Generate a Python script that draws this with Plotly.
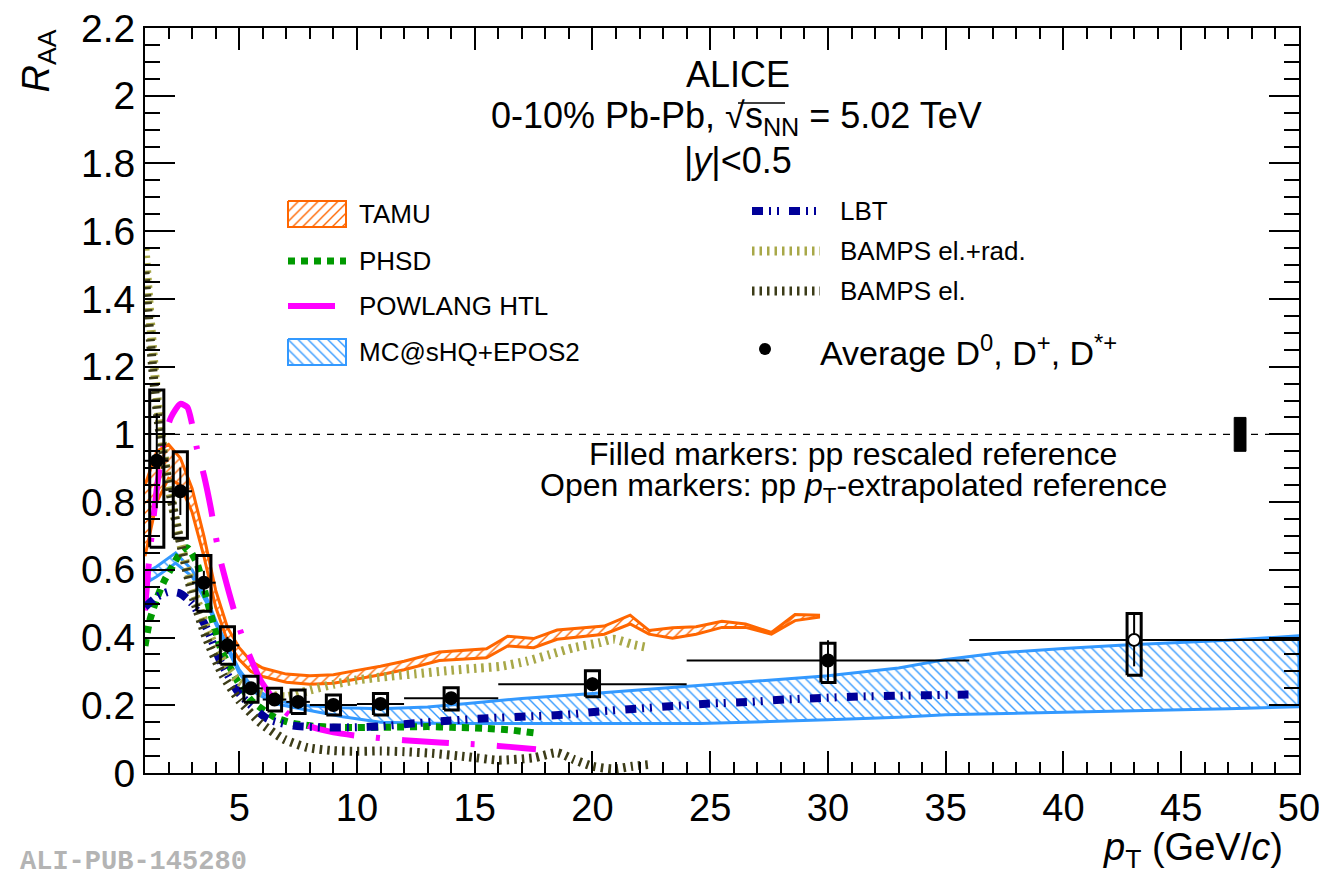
import plotly.graph_objects as go

# ---------------- canvas / frame geometry (pixels) ----------------
W, H = 1319, 878
ML, MR, MT, MB = 145, 20, 28, 105
PW, PH = W - ML - MR, H - MT - MB
FONT = "Liberation Sans, Arial, Helvetica, sans-serif"

# ---------------- measured data: average D0, D+, D*+ ----------------
pt_d = [1.5, 2.5, 3.5, 4.5, 5.5, 6.5, 7.5, 9, 11, 14, 20, 30, 43]
raa_d = [0.922, 0.832, 0.562, 0.377, 0.250, 0.217, 0.210, 0.201, 0.204, 0.221, 0.262, 0.332, 0.393]
stat_d = [0.14, 0.07, 0.035, 0.025, 0.015, 0.012, 0.012, 0.010, 0.012, 0.015, 0.020, 0.060, 0.078]
syst_lo = [0.667, 0.693, 0.478, 0.321, 0.209, 0.183, 0.176, 0.171, 0.171, 0.186, 0.225, 0.267, 0.289]
syst_hi = [1.131, 0.949, 0.642, 0.432, 0.286, 0.250, 0.245, 0.230, 0.235, 0.252, 0.302, 0.383, 0.471]
bin_lo = [1, 2, 3, 4, 5, 6, 7, 8, 10, 12, 16, 24, 36]
bin_hi = [2, 3, 4, 5, 6, 7, 8, 10, 12, 16, 24, 36, 50]
extrapolated_ref = [False] * 12 + [True]
norm_pt = 47.5
norm_unc = 0.05

# ---------------- model calculations ----------------
tamu_pt = [1, 1.5, 2, 2.5, 3, 3.5, 4, 4.5, 5, 5.5, 6, 7, 8, 9, 10, 11, 12, 13.5, 15.5, 16.4,
           17.5, 18.5, 20.5, 21.6, 22.4, 23.4, 24.4, 25.5, 26.5, 27.6, 28.6, 29.6]
tamu_hi = [0.85, 0.95, 0.97, 0.93, 0.84, 0.70, 0.54, 0.43, 0.37, 0.33, 0.31, 0.292, 0.287, 0.29,
           0.303, 0.315, 0.33, 0.357, 0.367, 0.404, 0.397, 0.422, 0.434, 0.466, 0.421, 0.429,
           0.432, 0.448, 0.44, 0.415, 0.468, 0.466]
tamu_lo = [0.64, 0.80, 0.87, 0.85, 0.77, 0.64, 0.49, 0.39, 0.335, 0.30, 0.285, 0.268, 0.262,
           0.265, 0.278, 0.29, 0.305, 0.332, 0.34, 0.375, 0.37, 0.395, 0.41, 0.44, 0.41, 0.398,
           0.41, 0.43, 0.43, 0.41, 0.45, 0.46]

phsd_pt = [1, 1.2, 1.5, 1.8, 2.2, 2.5, 2.8, 3.2, 3.6, 4.2, 4.9, 5.5, 6.5, 7.2, 8.2, 9, 10, 11,
           12, 13, 14, 15.4, 16.5, 17.7]
phsd_r = [0.375, 0.45, 0.515, 0.565, 0.615, 0.65, 0.665, 0.62, 0.52, 0.37, 0.275, 0.215, 0.165,
          0.148, 0.138, 0.135, 0.134, 0.135, 0.136, 0.137, 0.135, 0.132, 0.127, 0.117]

pow_pt = [1, 1.15, 1.5, 1.8, 2.1, 2.5, 2.8, 3.0, 3.2, 3.5, 3.8, 4.0, 4.2, 4.7, 5.0, 5.3, 5.9,
          6.5, 7.0, 8.0, 9.0, 10.0, 11.0, 12.0, 13.0, 14.0, 15.0, 16.0, 17.0, 17.6]
pow_r = [0.48, 0.61, 0.84, 0.98, 1.05, 1.09, 1.08, 1.03, 0.96, 0.88, 0.78, 0.70, 0.63, 0.50,
         0.43, 0.37, 0.275, 0.215, 0.178, 0.138, 0.12, 0.11, 0.103, 0.097, 0.092, 0.088, 0.085,
         0.08, 0.074, 0.07]

mc_pt = [1, 1.5, 2.3, 3, 3.6, 4.0, 4.5, 5, 5.6, 6.5, 7.6, 8.7, 9.4, 11, 13, 14.7, 16.1, 17, 20,
         24.6, 30, 33, 35, 37.3, 40, 42.4, 47, 50]
mc_hi = [0.59, 0.61, 0.65, 0.60, 0.52, 0.45, 0.375, 0.305, 0.25, 0.216, 0.20, 0.195, 0.193,
         0.19, 0.195, 0.205, 0.215, 0.22, 0.235, 0.258, 0.287, 0.31, 0.335, 0.355, 0.368, 0.377,
         0.392, 0.405]
mc_lo = [0.56, 0.58, 0.62, 0.58, 0.505, 0.44, 0.365, 0.295, 0.24, 0.205, 0.19, 0.176, 0.166,
         0.15, 0.147, 0.146, 0.146, 0.146, 0.145, 0.146, 0.157, 0.165, 0.172, 0.176, 0.18,
         0.183, 0.19, 0.196]

lbt_pt = [1, 1.5, 2, 2.5, 3, 3.6, 4.2, 5, 6.2, 7.3, 8.5, 10, 11, 12.5, 14, 15.6, 17.2, 18.8,
          20.3, 21.9, 23.5, 25, 26.7, 28.2, 29.8, 31.4, 33, 34.5, 36.1]
lbt_r = [0.49, 0.52, 0.535, 0.53, 0.50, 0.43, 0.33, 0.235, 0.16, 0.14, 0.135, 0.135, 0.138,
         0.147, 0.155, 0.162, 0.167, 0.172, 0.182, 0.19, 0.198, 0.205, 0.21, 0.217, 0.222,
         0.226, 0.228, 0.23, 0.232]

bampsr_pt = [1, 1.2, 1.4, 1.6, 2.0, 2.4, 2.8, 3.2, 3.6, 4.0, 4.5, 5.0, 6.0, 7.0, 8.0, 9.0, 10.0,
             11.3, 12.5, 13.8, 15.2, 16.1, 17.2, 18.2, 19.2, 20.3, 20.9, 21.7, 22.4]
bampsr_r = [1.55, 1.36, 1.19, 1.05, 0.85, 0.71, 0.60, 0.51, 0.43, 0.37, 0.31, 0.27, 0.235,
            0.225, 0.245, 0.262, 0.275, 0.285, 0.293, 0.302, 0.31, 0.315, 0.33, 0.35, 0.37,
            0.385, 0.395, 0.38, 0.37]

bampse_pt = [1, 1.2, 1.4, 1.6, 1.8, 2.2, 2.6, 3.0, 3.6, 4.3, 5.0, 5.9, 6.9, 7.9, 9, 10, 11, 12,
             13.2, 14.7, 16, 17.5, 18.5, 19.2, 20, 20.9, 21.7, 22.4]
bampse_r = [1.48, 1.30, 1.14, 1.02, 0.93, 0.78, 0.65, 0.53, 0.40, 0.29, 0.215, 0.148, 0.10,
            0.075, 0.066, 0.064, 0.065, 0.063, 0.058, 0.048, 0.038, 0.045, 0.06, 0.04, 0.02,
            0.012, 0.02, 0.025]

# ---------------- axis ticks ----------------
x_ticks = [5, 10, 15, 20, 25, 30, 35, 40, 45, 50]
y_ticks = [0, 0.2, 0.4, 0.6, 0.8, 1.0, 1.2, 1.4, 1.6, 1.8, 2.0, 2.2]
y_ticktext = ["0", "0.2", "0.4", "0.6", "0.8", "1", "1.2", "1.4", "1.6", "1.8", "2", "2.2"]

# ---------------- styles ----------------
C_TAMU = "#ff6600"
C_PHSD = "#009a00"
C_POW = "#ff00ff"
C_MC = "#3399ff"
C_LBT = "#000099"
C_BR = "#a8a848"
C_BE = "#3c3c18"

DASH_PHSD = "7px,6px"
DASH_POW = "47px,22px,4px,22px"
DASH_LBT = "11px,6px,2px,6px,2px,10px"
DASH_BAMPS = "2.5px,5px"

fig = go.Figure()


def band(xs, hi, lo, color, shape):
    return go.Scatter(
        x=list(xs) + list(xs)[::-1], y=list(hi) + list(lo)[::-1],
        mode="lines", fill="toself", fillcolor="rgba(0,0,0,0)",
        fillpattern=dict(shape=shape, fgcolor=color, bgcolor="rgba(0,0,0,0)",
                         size=7, solidity=0.2, fillmode="replace"),
        line=dict(color=color, width=3), hoverinfo="skip", showlegend=False)


def curve(xs, ys, color, width, dash, spline=True):
    return go.Scatter(
        x=xs, y=ys, mode="lines",
        line=dict(color=color, width=width, dash=dash,
                  shape="spline" if spline else "linear", smoothing=0.6),
        hoverinfo="skip", showlegend=False)


fig.add_trace(band(tamu_pt, tamu_hi, tamu_lo, C_TAMU, "/"))
fig.add_trace(band(mc_pt, mc_hi, mc_lo, C_MC, "\\"))
fig.add_trace(curve(phsd_pt, phsd_r, C_PHSD, 7, DASH_PHSD))
fig.add_trace(curve(pow_pt, pow_r, C_POW, 6, DASH_POW))
fig.add_trace(curve(lbt_pt, lbt_r, C_LBT, 8, DASH_LBT))
fig.add_trace(curve(bampsr_pt, bampsr_r, C_BR, 9, DASH_BAMPS))
fig.add_trace(curve(bampse_pt, bampse_r, C_BE, 9, DASH_BAMPS))

# systematic uncertainty boxes
BOX_HW = 0.3
bx, by = [], []
for p, lo, hi in zip(pt_d, syst_lo, syst_hi):
    bx += [p - BOX_HW, p + BOX_HW, p + BOX_HW, p - BOX_HW, p - BOX_HW, None]
    by += [lo, lo, hi, hi, lo, None]
fig.add_trace(go.Scatter(x=bx, y=by, mode="lines", line=dict(color="black", width=3),
                         hoverinfo="skip", showlegend=False))

# normalisation uncertainty box at R_AA = 1
fig.add_trace(go.Scatter(
    x=[norm_pt - 0.25, norm_pt + 0.25, norm_pt + 0.25, norm_pt - 0.25, norm_pt - 0.25],
    y=[1 - norm_unc, 1 - norm_unc, 1 + norm_unc, 1 + norm_unc, 1 - norm_unc],
    mode="lines", fill="toself", fillcolor="black", line=dict(color="black", width=1),
    hoverinfo="skip", showlegend=False))

# data points with statistical errors and bin widths
for is_open in (False, True):
    idx = [i for i, o in enumerate(extrapolated_ref) if o == is_open]
    fig.add_trace(go.Scatter(
        x=[pt_d[i] for i in idx], y=[raa_d[i] for i in idx], mode="markers",
        marker=dict(symbol="circle", size=12, color="white" if is_open else "black",
                    line=dict(color="black", width=2)),
        error_y=dict(type="data", array=[stat_d[i] for i in idx], color="black",
                     thickness=2, width=0),
        error_x=dict(type="data", array=[bin_hi[i] - pt_d[i] for i in idx],
                     arrayminus=[pt_d[i] - bin_lo[i] for i in idx], color="black",
                     thickness=2, width=0),
        hoverinfo="skip", showlegend=False))

# ---------------- legend (drawn on a pixel-space overlay) ----------------
LEG_L_X0, LEG_L_X1, LEG_L_TX = 288, 346, 357
LEG_R_X0, LEG_R_X1, LEG_R_TX = 752, 820, 838


def ov(tr):
    tr.update(xaxis="x2", yaxis="y2", hoverinfo="skip", showlegend=False)
    fig.add_trace(tr)


def leg_box(y0, y1, color, shape):
    ov(go.Scatter(x=[LEG_L_X0, LEG_L_X1, LEG_L_X1, LEG_L_X0, LEG_L_X0],
                  y=[y0, y0, y1, y1, y0], mode="lines", fill="toself",
                  fillcolor="rgba(0,0,0,0)",
                  fillpattern=dict(shape=shape, fgcolor=color, bgcolor="rgba(0,0,0,0)",
                                   size=7, solidity=0.2, fillmode="replace"),
                  line=dict(color=color, width=2)))


def leg_line(x0, x1, y, color, width, dash):
    ov(go.Scatter(x=[x0, x1], y=[y, y], mode="lines",
                  line=dict(color=color, width=width, dash=dash)))


leg_box(201, 227, C_TAMU, "/")
leg_line(LEG_L_X0, LEG_L_X1, 261, C_PHSD, 7, DASH_PHSD)
leg_line(LEG_L_X0, LEG_L_X1, 306, C_POW, 6, DASH_POW)
leg_box(339, 365, C_MC, "\\")
leg_line(LEG_R_X0, LEG_R_X1, 211, C_LBT, 8, DASH_LBT)
leg_line(LEG_R_X0, LEG_R_X1, 251, C_BR, 9, DASH_BAMPS)
leg_line(LEG_R_X0, LEG_R_X1, 291, C_BE, 9, DASH_BAMPS)
ov(go.Scatter(x=[765], y=[349], mode="markers",
              marker=dict(symbol="circle", size=12, color="black")))


def ann(text, x, y, size, xanchor="center", yanchor="middle", **kw):
    return dict(text=text, x=(x - ML) / PW, y=(H - MB - y) / PH, xref="paper", yref="paper",
                showarrow=False, font=dict(family=FONT, size=size, color="black"),
                xanchor=xanchor, yanchor=yanchor, **kw)


annotations = [
    ann("TAMU", LEG_L_TX, 214, 26, "left"),
    ann("PHSD", LEG_L_TX, 261, 26, "left"),
    ann("POWLANG HTL", LEG_L_TX, 306, 26, "left"),
    ann("MC@sHQ+EPOS2", LEG_L_TX, 352, 26, "left"),
    ann("LBT", LEG_R_TX, 211, 26, "left"),
    ann("BAMPS el.+rad.", LEG_R_TX, 251, 26, "left"),
    ann("BAMPS el.", LEG_R_TX, 291, 26, "left"),
    ann("Average D<sup>0</sup>, D<sup>+</sup>, D<sup>*+</sup>", 818, 350, 34, "left"),
    ann("ALICE", 738, 74, 36),
    ann("0-10% Pb-Pb, √s<sub>NN</sub> = 5.02 TeV", 736, 118, 36),
    ann("|<i>y</i>|<0.5", 738, 160, 36),
    ann("Filled markers: pp rescaled reference", 853, 454, 32),
    ann("Open markers: pp <i>p</i><sub>T</sub>-extrapolated reference", 853, 487, 32),
    ann("<i>R</i><sub>AA</sub>", 38, 28, 38, "center", "top", textangle=-90),
    ann("<i>p</i><sub>T</sub> (GeV/<i>c</i>)", 1285, 850, 38, "right"),
    ann("<b>ALI-PUB-145280</b>", 18, 862, 27, "left"),
]
annotations[-1]["font"] = dict(family="Liberation Mono, Courier New, monospace", size=27,
                               color="#b4b4b4")

axis_common = dict(showline=True, linecolor="black", linewidth=2, mirror="allticks",
                   ticks="inside", tickcolor="black", tickwidth=2, showgrid=False,
                   zeroline=False, ticklabeloverflow="allow", automargin=False)


def px_paper(x, y):
    return (x - ML) / PW, (H - MB - y) / PH


# overline of the square root in the collision-energy label
ov_x0, ov_y = px_paper(738, 103)
ov_x1, _ = px_paper(785, 103)

fig.update_layout(
    width=W, height=H, margin=dict(l=ML, r=MR, t=MT, b=MB, pad=0, autoexpand=False),
    paper_bgcolor="white", plot_bgcolor="white", showlegend=False,
    xaxis=dict(range=[1, 50.001], tickvals=x_ticks, ticklen=22,
               tickfont=dict(family=FONT, size=38, color="black"),
               minor=dict(ticks="inside", ticklen=11, tickwidth=2, tickcolor="black",
                          dtick=1, tick0=0),
               **axis_common),
    yaxis=dict(range=[0, 2.2], tickvals=y_ticks, ticktext=y_ticktext, ticklen=30,
               tickfont=dict(family=FONT, size=39, color="black"),
               minor=dict(ticks="inside", ticklen=15, tickwidth=2, tickcolor="black",
                          dtick=0.05, tick0=0),
               **axis_common),
    xaxis2=dict(range=[ML, W - MR], overlaying="x", visible=False, fixedrange=True),
    yaxis2=dict(range=[H - MB, MT], overlaying="y", visible=False, fixedrange=True),
    shapes=[
        dict(type="line", xref="x", yref="y", x0=1, x1=50, y0=1, y1=1,
             line=dict(color="black", width=1.2, dash="7px,7px"), layer="below"),
        dict(type="line", xref="paper", yref="paper", x0=ov_x0, x1=ov_x1, y0=ov_y, y1=ov_y,
             line=dict(color="black", width=1.5)),
    ],
    annotations=annotations,
)

fig.write_html("out.html")
